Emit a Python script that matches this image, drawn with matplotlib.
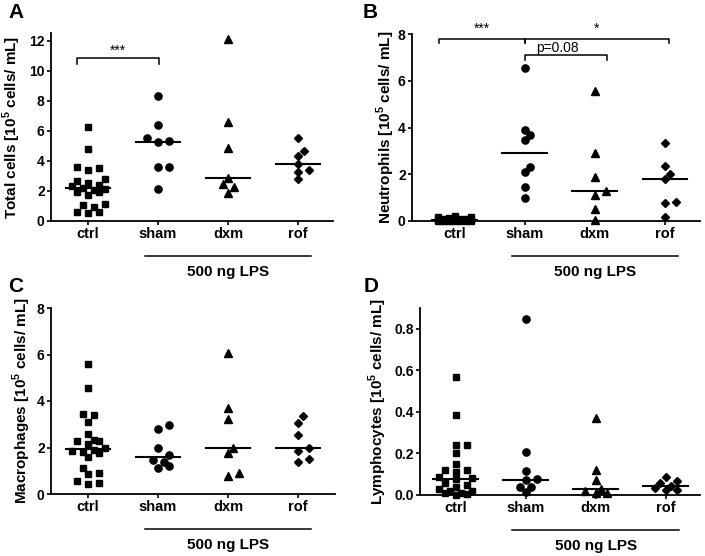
import numpy as np
import matplotlib
matplotlib.use('Agg')
import matplotlib.pyplot as plt
from matplotlib import transforms

plt.rcParams['font.family'] = ['Liberation Sans', 'DejaVu Sans']
plt.rcParams['font.weight'] = 'bold'
plt.rcParams['mathtext.fontset'] = 'custom'
plt.rcParams['mathtext.rm'] = 'Liberation Sans:bold'
plt.rcParams['mathtext.bf'] = 'Liberation Sans:bold'

groups = ['ctrl', 'sham', 'dxm', 'rof']

# Total cells [10^5 cells/mL]
total_ctrl = [6.25, 4.8, 3.58, 3.51, 3.42, 2.78, 2.69, 2.55, 2.42, 2.35, 2.22,
              2.15, 2.05, 1.95, 1.9, 1.75, 1.11, 1.07, 0.95, 0.62, 0.58, 0.51]
total_sham = [8.29, 6.4, 5.51, 5.29, 5.24, 3.58, 3.58, 2.11]
total_dxm = [12.1, 6.56, 4.84, 2.83, 2.44, 2.29, 1.84]
total_rof = [5.51, 4.67, 4.29, 3.82, 3.4, 3.29, 2.78]

# Neutrophils
neut_ctrl = [0.2, 0.18, 0.15, 0.12, 0.1, 0.09, 0.08, 0.07, 0.06, 0.05, 0.05,
             0.04, 0.04, 0.03, 0.03, 0.02, 0.02, 0.01, 0.01, 0.0, 0.0, 0.0]
neut_sham = [6.53, 3.89, 3.68, 3.47, 2.32, 2.11, 1.44, 0.98]
neut_dxm = [5.58, 2.92, 1.9, 1.28, 1.11, 0.5, 0.04]
neut_rof = [3.32, 2.35, 2.0, 1.78, 0.83, 0.78, 0.19]

# Macrophages
macro_ctrl = [5.59, 4.55, 3.44, 3.4, 3.11, 2.58, 2.32, 2.29, 2.29, 2.15, 2.0,
              1.89, 1.86, 1.82, 1.78, 1.61, 1.1, 0.92, 0.86, 0.57, 0.49, 0.42]
macro_sham = [2.95, 2.81, 1.98, 1.66, 1.48, 1.38, 1.19, 1.12]
macro_dxm = [6.06, 3.7, 3.24, 2.0, 1.76, 0.9, 0.76]
macro_rof = [3.34, 3.05, 2.55, 2.0, 1.84, 1.51, 1.36]

# Lymphocytes
lymph_ctrl = [0.57, 0.385, 0.24, 0.24, 0.2, 0.15, 0.12, 0.12, 0.11, 0.085, 0.08,
              0.075, 0.06, 0.05, 0.04, 0.03, 0.02, 0.02, 0.01, 0.01, 0.005, 0.0]
lymph_sham = [0.848, 0.206, 0.117, 0.077, 0.072, 0.037, 0.037, 0.013]
lymph_dxm = [0.37, 0.12, 0.07, 0.027, 0.02, 0.01, 0.008]
lymph_rof = [0.088, 0.068, 0.058, 0.045, 0.032, 0.025, 0.022]

markers = ['s', 'o', '^', 'D']
msizes = [4.6, 5.2, 5.6, 4.4]


def swarm_x(ax, xc, vals, diam=7.0, step=5.5, max_half=18.0):
    """Spread points sideways (in pixels) so they do not overlap."""
    vals = np.asarray(vals, dtype=float)
    pts = ax.transData.transform(np.column_stack([np.full(len(vals), xc), vals]))
    x0, ypx = pts[0, 0], pts[:, 1]
    cands = [0.0]
    k = 1
    while k * step <= max_half:
        cands += [k * step, -k * step]
        k += 1
    placed = []
    offs = np.zeros(len(vals))
    for i in np.argsort(vals):
        best, best_d = None, -1
        for c in cands:
            d = min([np.hypot(c - px, ypx[i] - py) for px, py in placed] or [1e9])
            if d >= diam:
                best = c
                break
            if d > best_d:
                best_d, best_c = d, c
        if best is None:
            best = best_c
        placed.append((best, ypx[i]))
        offs[i] = best
    inv = ax.transData.inverted()
    return inv.transform(np.column_stack([x0 + offs, ypx]))[:, 0]


def draw_panel(ax, data, ylim, yticks, ylabel, xlim, label_x, fmt='{:g}'):
    ax.set_xlim(*xlim)
    ax.set_ylim(*ylim)
    for i, vals in enumerate(data):
        xs = swarm_x(ax, i, vals)
        ax.plot(xs, vals, linestyle='none', marker=markers[i], ms=msizes[i],
                color='black', clip_on=False, zorder=3)
        med = np.median(vals)
        ax.plot([i - 0.32, i + 0.32], [med, med], color='black', lw=1.5, zorder=4)
    ax.set_xticks(range(len(groups)))
    ax.set_xticklabels(groups, fontsize=10.5, fontweight='bold')
    ax.set_yticks(yticks)
    ax.set_yticklabels([fmt.format(t) for t in yticks], fontsize=10, fontweight='bold')
    ax.set_ylabel(ylabel, fontsize=11, fontweight='bold', va='center')
    # ylabel centre, in pixels left of the y axis
    ax.yaxis.set_label_coords(-label_x / (ax.get_position().width * 705), 0.5)
    for s in ['top', 'right']:
        ax.spines[s].set_visible(False)
    for s in ['left', 'bottom']:
        ax.spines[s].set_linewidth(1.3)
    ax.tick_params(direction='out', length=3, width=1.2, pad=1.5)

    # "500 ng LPS" bar under sham..rof
    tr = transforms.blended_transform_factory(ax.transData, ax.transAxes)
    line_tr = tr + transforms.ScaledTranslation(0, -0.35, ax.figure.dpi_scale_trans)
    txt_tr = tr + transforms.ScaledTranslation(0, -0.51, ax.figure.dpi_scale_trans)
    ax.plot([0.81, 3.19], [0, 0], color='black', lw=1.1, transform=line_tr, clip_on=False)
    ax.text(2.0, 0, '500 ng LPS', transform=txt_tr, ha='center', va='center',
            fontsize=11, fontweight='bold')


def bracket(ax, x1, x2, y, drop, label, label_y, label_x=None):
    ax.plot([x1, x1, x2, x2], [y - drop, y, y, y - drop], color='black',
            lw=1.1, clip_on=False)
    if label_x is None:
        label_x = (x1 + x2) / 2
    ax.text(label_x, label_y, label, ha='center', va='center', fontsize=10,
            fontweight='normal', clip_on=False)


fig = plt.figure(figsize=(7.05, 5.56), dpi=100)
W, H = 705, 556


def add_axes(left, right, bottom, top):
    return fig.add_axes([left / W, 1 - bottom / H, (right - left) / W, (bottom - top) / H])


axA = add_axes(51, 333, 221, 33)
axB = add_axes(412, 700, 221, 34)
axC = add_axes(51, 335, 494, 308)
axD = add_axes(420, 700, 495, 308)

unit = r' [10$^5$ cells/ mL]'
draw_panel(axA, [total_ctrl, total_sham, total_dxm, total_rof], (0, 12.5),
           [0, 2, 4, 6, 8, 10, 12], 'Total cells' + unit, (-0.53, 3.5), 39)
draw_panel(axB, [neut_ctrl, neut_sham, neut_dxm, neut_rof], (0, 8),
           [0, 2, 4, 6, 8], 'Neutrophils' + unit, (-0.61, 3.5), 26)
draw_panel(axC, [macro_ctrl, macro_sham, macro_dxm, macro_rof], (0, 8),
           [0, 2, 4, 6, 8], 'Macrophages' + unit, (-0.53, 3.53), 29)
draw_panel(axD, [lymph_ctrl, lymph_sham, lymph_dxm, lymph_rof], (0, 0.9),
           [0.0, 0.2, 0.4, 0.6, 0.8], 'Lymphocytes' + unit, (-0.51, 3.49), 42,
           fmt='{:.1f}')

# significance brackets
bracket(axA, -0.16, 1.01, 10.87, 0.42, '***', 11.35)
bracket(axB, -0.23, 1.0, 7.77, 0.17, '***', 8.22)
bracket(axB, 1.0, 3.06, 7.77, 0.17, '*', 8.22)
bracket(axB, 1.0, 2.17, 7.1, 0.21, 'p=0.08', 7.42, label_x=1.47)

# panel letters
for lab, (x, y) in zip('ABCD', [(16, 12), (370, 12), (16, 286), (371, 286)]):
    fig.text(x / W, 1 - y / H, lab, fontsize=15, fontweight='bold',
             ha='center', va='center')

fig.savefig('out.png', dpi=100)
